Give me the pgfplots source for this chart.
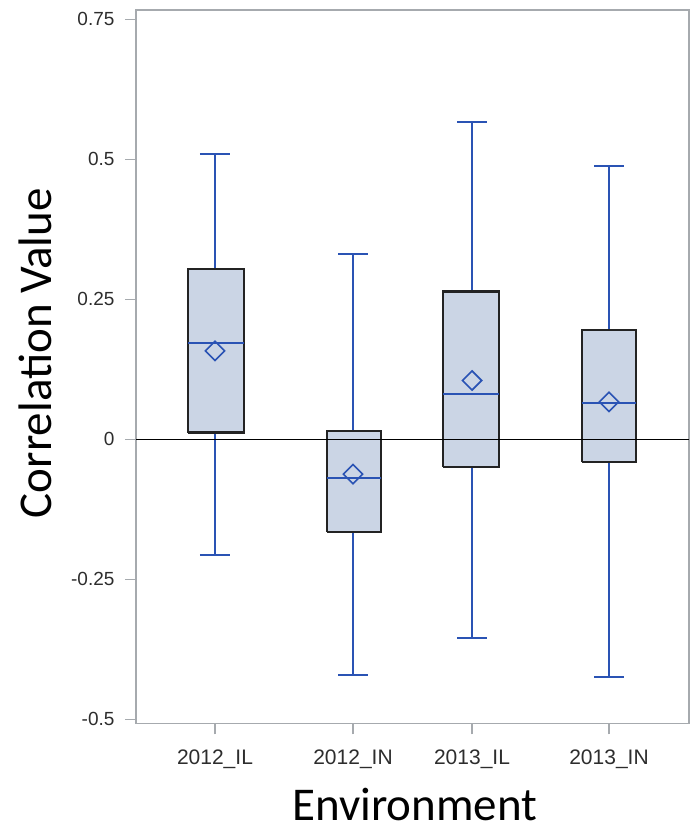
\documentclass[border=0pt]{standalone}
\usepackage{pgfplots}
\pgfplotsset{compat=1.18}
\usepackage{fontspec}
\setmainfont{Liberation Sans}
\newfontfamily\carlito{Carlito}
\definecolor{boxfill}{RGB}{203,213,229}
\definecolor{wblue}{RGB}{42,83,180}
\definecolor{framegray}{RGB}{166,170,174}
\definecolor{ticktext}{RGB}{45,45,45}
\definecolor{boxline}{RGB}{35,35,35}
\begin{document}
\begin{tikzpicture}
\useasboundingbox (-136pt,-106.7pt) rectangle (556pt,723.3pt);
\begin{axis}[
  at={(0pt,0pt)}, anchor=south west,
  width=553pt, height=713.3pt, scale only axis,
  xmin=1.36, xmax=6.89,
  ymin=-0.50714, ymax=0.76661,
  axis line style={draw=framegray, line width=1.5pt},
  tick style={draw=framegray, line width=1.5pt},
  tick align=outside, major tick length=11pt,
  xtick={2.15,3.53,4.72,6.09},
  xticklabels={2012\_IL,2012\_IN,2013\_IL,2013\_IN},
  ytick={-0.5,-0.25,0,0.25,0.5,0.75},
  yticklabels={-0.5,-0.25,0,0.25,0.5,0.75},
  xtick pos=bottom, ytick pos=left,
  ticklabel style={text=ticktext},
  yticklabel style={font=\fontsize{19}{21}\selectfont, xshift=-7pt},
  xticklabel style={font=\fontsize{21}{23}\selectfont, yshift=-12pt},
  xlabel={Environment},
  ylabel={Correlation Value},
  xlabel style={font=\carlito\fontsize{47}{50}\selectfont, at={(axis description cs:0.504,-0.1365)}, anchor=base, inner sep=0pt},
  ylabel style={font=\carlito\fontsize{47}{50}\selectfont, at={(axis description cs:-0.152,0.519)}, anchor=base, inner sep=0pt},
  unbounded coords=jump,
]
% whiskers and caps
\addplot[wblue, line width=2pt] coordinates {
 (2.15,0.304) (2.15,0.510) (nan,nan) (2.00,0.510) (2.30,0.510) (nan,nan)
 (2.15,0.012) (2.15,-0.206) (nan,nan) (2.00,-0.206) (2.30,-0.206) (nan,nan)
 (3.53,0.015) (3.53,0.331) (nan,nan) (3.38,0.331) (3.68,0.331) (nan,nan)
 (3.53,-0.165) (3.53,-0.421) (nan,nan) (3.38,-0.421) (3.68,-0.421) (nan,nan)
 (4.72,0.264) (4.72,0.567) (nan,nan) (4.57,0.567) (4.87,0.567) (nan,nan)
 (4.72,-0.049) (4.72,-0.354) (nan,nan) (4.57,-0.354) (4.87,-0.354) (nan,nan)
 (6.09,0.195) (6.09,0.488) (nan,nan) (5.94,0.488) (6.24,0.488) (nan,nan)
 (6.09,-0.041) (6.09,-0.4245) (nan,nan) (5.94,-0.4245) (6.24,-0.4245)
};
% box fills (Q1 to Q3)
\addplot[draw=none, fill=boxfill] coordinates {(1.88,0.012) (2.44,0.012) (2.44,0.304) (1.88,0.304)} -- cycle;
\addplot[draw=none, fill=boxfill] coordinates {(3.27,-0.165) (3.81,-0.165) (3.81,0.015) (3.27,0.015)} -- cycle;
\addplot[draw=none, fill=boxfill] coordinates {(4.43,-0.049) (4.99,-0.049) (4.99,0.264) (4.43,0.264)} -- cycle;
\addplot[draw=none, fill=boxfill] coordinates {(5.82,-0.041) (6.36,-0.041) (6.36,0.195) (5.82,0.195)} -- cycle;
% box outlines
\addplot[sharp plot, boxline, line width=2.2pt, line join=miter] coordinates {
 (1.88,0.012) (2.44,0.012) (2.44,0.304) (1.88,0.304) (1.88,0.012) (nan,nan)
 (3.27,-0.165) (3.81,-0.165) (3.81,0.015) (3.27,0.015) (3.27,-0.165) (nan,nan)
 (4.43,-0.049) (4.99,-0.049) (4.99,0.264) (4.43,0.264) (4.43,-0.049) (nan,nan)
 (5.82,-0.041) (6.36,-0.041) (6.36,0.195) (5.82,0.195) (5.82,-0.041)
};
% medians
\addplot[wblue, line width=2pt] coordinates {
 (1.88,0.172) (2.44,0.172) (nan,nan)
 (3.27,-0.0685) (3.81,-0.0685) (nan,nan)
 (4.43,0.0815) (4.99,0.0815) (nan,nan)
 (5.82,0.065) (6.36,0.065)
};
% zero reference line
\addplot[black, line width=1.5pt] coordinates {(1.36,0) (6.89,0)};
% means
\addplot[only marks, mark=square, mark size=6.8pt, mark options={rotate=45, draw=wblue, fill=none, line width=1.6pt}] coordinates {(2.15,0.158) (3.53,-0.062) (4.72,0.105) (6.09,0.067)};
\end{axis}
\end{tikzpicture}
\end{document}
